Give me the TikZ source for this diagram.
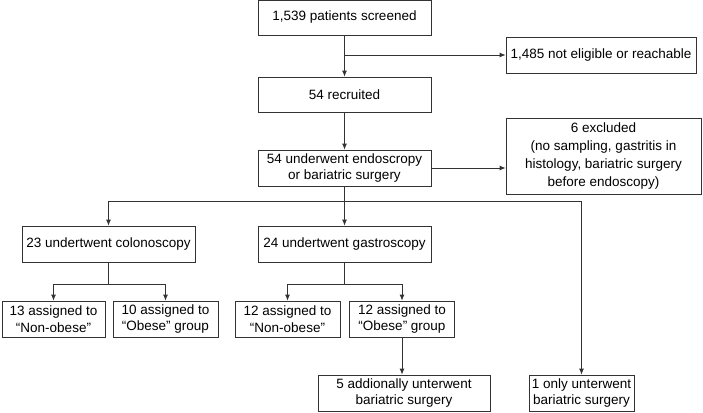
\documentclass[tikz,border=0pt]{standalone}
\usepackage{fontspec}
\setmainfont{Liberation Sans}
\usetikzlibrary{arrows.meta}

\begin{document}
\begin{tikzpicture}[x=1pt,y=-1pt,
    box/.style={draw=black!80, line width=0.8pt, align=center, inner sep=1pt,
      minimum height=36pt, font=\fontsize{13.5}{16.5}\selectfont},
    line/.style={draw=black!80, line width=0.8pt},
    arr/.style={line, -{Latex[length=6pt,width=5pt]}}]
    \useasboundingbox (0,0) rectangle (703,412);
    \node[box, minimum width=173pt, minimum height=35pt] (scr) at (344.5,17.5) {1,539 patients screened};
    \node[box, minimum width=190pt] (inel) at (601,55) {1,485 not eligible or reachable};
    \node[box, minimum width=173pt, minimum height=35pt] (rec) at (344.5,94.5) {54 recruited};
    \node[box, minimum width=173pt] (endo) at (344.5,168) {54 underwent endoscropy\\or bariatric surgery};
    \node[box, minimum width=195pt, minimum height=76pt, font=\fontsize{13.5}{18}\selectfont] (excl) at (603.5,156)
      {6 excluded\\(no sampling, gastritis in\\histology, bariatric surgery\\before endoscopy)};
    \node[box, minimum width=173pt] (colo) at (108.5,244) {23 undertwent colonoscopy};
    \node[box, minimum width=173pt] (gast) at (344.5,244) {24 undertwent gastroscopy};
    \node[box, minimum width=103pt] (nonA) at (53.5,319) {13 assigned to\\``Non-obese''};
    \node[box, minimum width=105pt] (obA) at (165.5,319) {10 assigned to\\``Obese'' group};
    \node[box, minimum width=105pt] (nonB) at (287.5,319) {12 assigned to\\``Non-obese''};
    \node[box, minimum width=105pt] (obB) at (402,319) {12 assigned to\\``Obese'' group};
    \node[box, minimum width=172pt] (bar) at (404,393) {5 addionally unterwent\\bariatric surgery};
    \node[box, minimum width=105pt] (only) at (581.5,393) {1 only unterwent\\bariatric surgery};
    \coordinate (s1) at (344.5,201);
    \coordinate (s2) at (108.5,284);
    \coordinate (s3) at (344.5,284);
    \draw[arr] (scr) -- (rec);
    \draw[arr] (scr.south |- inel.west) -- (inel.west);
    \draw[arr] (rec) -- (endo);
    \draw[arr] (endo.east) -- (endo.east -| excl.west);
    \draw[line] (endo.south) -- (s1);
    \draw[arr] (s1) -| (colo.north);
    \draw[arr] (s1) -- (gast.north);
    \draw[arr] (s1) -| (only.north);
    \draw[line] (colo.south) -- (s2);
    \draw[arr] (s2) -| (nonA.north);
    \draw[arr] (s2) -| (obA.north);
    \draw[line] (gast.south) -- (s3);
    \draw[arr] (s3) -| (nonB.north);
    \draw[arr] (s3) -| (obB.north);
    \draw[arr] (obB.south) -- (obB.south |- bar.north);
\end{tikzpicture}
\end{document}
